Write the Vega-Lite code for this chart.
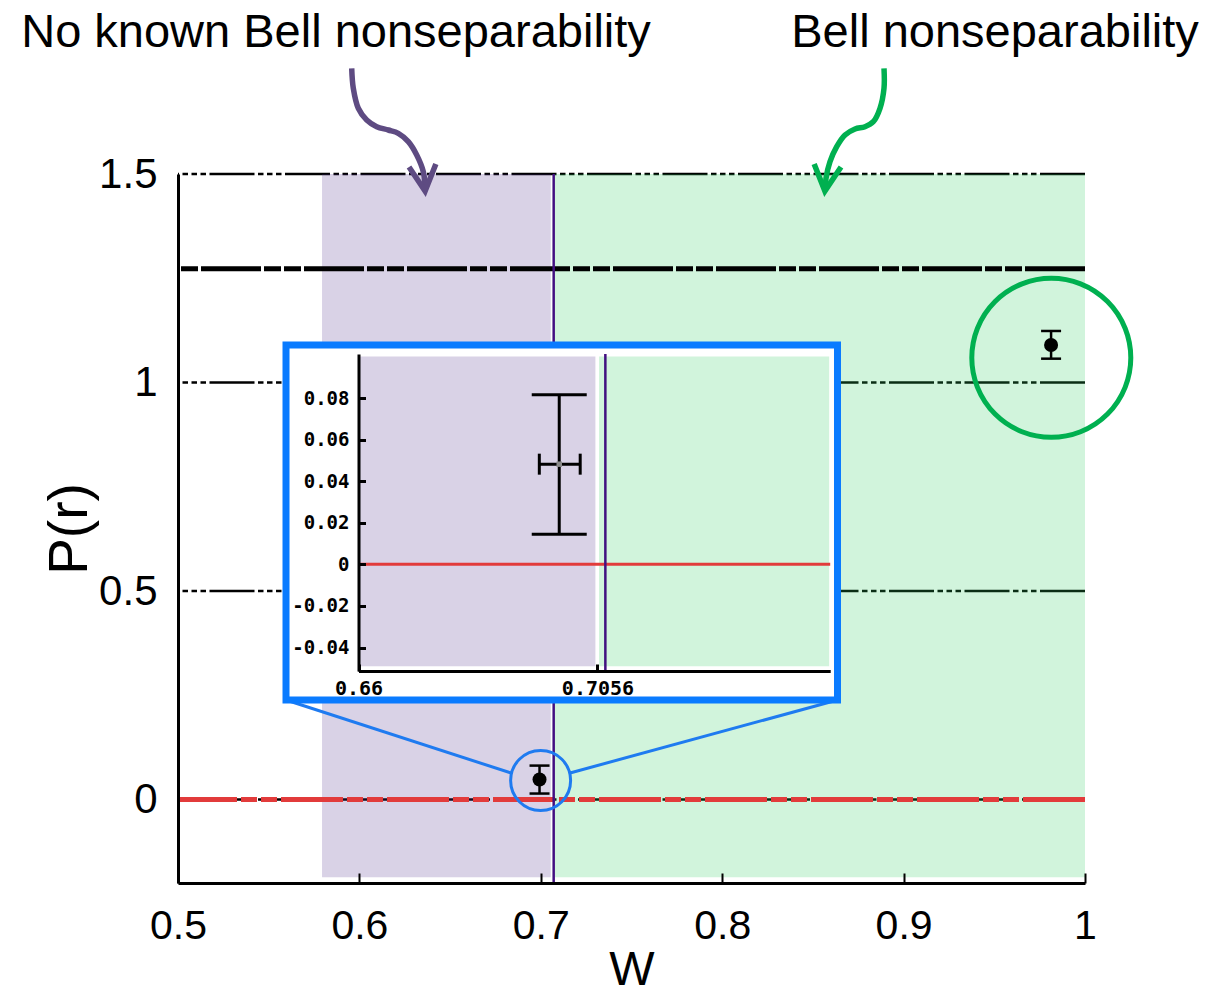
{
  "$schema": "https://vega.github.io/schema/vega-lite/v6.json",
  "width": 907,
  "height": 709,
  "autosize": "none",
  "padding": {"left": 178, "top": 174, "right": 124, "bottom": 110},
  "background": "white",
  "config": {"view": {"stroke": null}, "font": "Liberation Sans"},
  "datasets": {
    "regions": [
      {"name": "No known Bell nonseparability", "x1": 0.5794, "x2": 0.7055, "ytop": 1.5, "ybot": -0.186},
      {"name": "Bell nonseparability", "x1": 0.7078, "x2": 1.0, "ytop": 1.5, "ybot": -0.186}
    ],
    "insetRegions": [
      {"name": "No known Bell nonseparability", "x1": 0.66, "x2": 0.7052, "ytop": 0.1, "ybot": -0.049},
      {"name": "Bell nonseparability", "x1": 0.7059, "x2": 0.7498, "ytop": 0.1, "ybot": -0.049}
    ],
    "grid": [{"y": 0}, {"y": 0.5}, {"y": 1}, {"y": 1.5}],
    "bound": [{"y": 1.273}],
    "zero": [{"y": 0}],
    "threshold": [{"x": 0.7071}],
    "points": [
      {"x": 0.6993, "y": 0.048, "lo": 0.0145, "hi": 0.0815},
      {"x": 0.9813, "y": 1.09, "lo": 1.0572, "hi": 1.1236}
    ],
    "blueRing": [{"x": 0.6999, "y": 0.0458}],
    "greenRing": [{"x": 0.98142, "y": 1.0593}],
    "frame": [{"x1": 0.55954, "x2": 0.86356, "y1": 0.2388, "y2": 1.09}],
    "connectors": [
      {"x1": 0.55954, "y1": 0.2388, "x2": 0.68357, "y2": 0.0638},
      {"x1": 0.86356, "y1": 0.2388, "x2": 0.7161, "y2": 0.0638}
    ],
    "arrows": [
      {"region": "No known Bell nonseparability", "i": 0, "x": 0.59576, "y": 1.7535},
      {"region": "No known Bell nonseparability", "i": 1, "x": 0.59664, "y": 1.7055},
      {"region": "No known Bell nonseparability", "i": 2, "x": 0.59939, "y": 1.6576},
      {"region": "No known Bell nonseparability", "i": 3, "x": 0.60402, "y": 1.6295},
      {"region": "No known Bell nonseparability", "i": 4, "x": 0.60954, "y": 1.6134},
      {"region": "No known Bell nonseparability", "i": 5, "x": 0.61593, "y": 1.6055},
      {"region": "No known Bell nonseparability", "i": 6, "x": 0.62145, "y": 1.5976},
      {"region": "No known Bell nonseparability", "i": 7, "x": 0.62696, "y": 1.5775},
      {"region": "No known Bell nonseparability", "i": 8, "x": 0.63159, "y": 1.5456},
      {"region": "No known Bell nonseparability", "i": 9, "x": 0.63523, "y": 1.5055},
      {"region": "No known Bell nonseparability", "i": 10, "x": 0.63616, "y": 1.4712},
      {"region": "Bell nonseparability", "i": 0, "x": 0.8892, "y": 1.7535},
      {"region": "Bell nonseparability", "i": 1, "x": 0.8892, "y": 1.7055},
      {"region": "Bell nonseparability", "i": 2, "x": 0.88699, "y": 1.6576},
      {"region": "Bell nonseparability", "i": 3, "x": 0.8833, "y": 1.6254},
      {"region": "Bell nonseparability", "i": 4, "x": 0.87872, "y": 1.6134},
      {"region": "Bell nonseparability", "i": 5, "x": 0.87321, "y": 1.6079},
      {"region": "Bell nonseparability", "i": 6, "x": 0.8677, "y": 1.5935},
      {"region": "Bell nonseparability", "i": 7, "x": 0.86312, "y": 1.5655},
      {"region": "Bell nonseparability", "i": 8, "x": 0.85943, "y": 1.5295},
      {"region": "Bell nonseparability", "i": 9, "x": 0.85722, "y": 1.4897},
      {"region": "Bell nonseparability", "i": 10, "x": 0.85695, "y": 1.4712}
    ],
    "purpleHead": [{"x": 0.63545, "y": 1.4914}],
    "greenHead": [{"x": 0.85739, "y": 1.4914}],
    "labels": [
      {"text": "No known Bell nonseparability", "x": 0.5871, "y": 1.8053},
      {"text": "Bell nonseparability", "x": 0.9504, "y": 1.8053}
    ],
    "insetZero": [{"x1": 0.66, "x2": 0.75, "y": 0}],
    "insetThreshold": [{"x": 0.7071, "y1": -0.0513, "y2": 0.1012}],
    "insetPoint": [{"x": 0.6983, "y": 0.0482, "ylo": 0.0145, "yhi": 0.0816, "xlo": 0.6945, "xhi": 0.7023}]
  },
  "layer": [
    {
      "data": {"name": "grid"},
      "mark": {"type": "rule", "stroke": "black", "strokeWidth": 2.5, "strokeDash": [45, 3.5, 5.5, 3.5, 5.5, 3.5, 5.5, 3.5]},
      "encoding": {
        "y": {"field": "y", "type": "quantitative", "scale": {"domain": [-0.2, 1.5], "nice": false, "zero": false}, "axis": null}
      }
    },
    {
      "data": {"name": "regions"},
      "mark": {"type": "rect", "opacity": 0.22},
      "encoding": {
        "x": {"field": "x1", "type": "quantitative", "scale": {"domain": [0.5, 1], "nice": false, "zero": false},
          "axis": {"orient": "bottom", "values": [0.5, 0.6, 0.7, 0.8, 0.9, 1], "format": "~g", "title": "W", "titleFontSize": 48, "titleFontWeight": "normal", "titleColor": "black", "titlePadding": 0,
            "labelFontSize": 41, "labelColor": "black", "labelPadding": 33, "labelFlush": false, "labelOverlap": false,
            "tickSize": -10, "tickWidth": 2, "tickColor": "black", "domainColor": "black", "domainWidth": 3, "grid": false, "zindex": 1}},
        "x2": {"field": "x2"},
        "y": {"field": "ytop", "type": "quantitative", "scale": {"domain": [-0.2, 1.5], "nice": false, "zero": false},
          "axis": {"orient": "left", "values": [0, 0.5, 1, 1.5], "format": "~g", "title": "P(r)", "titleFontSize": 55, "titleFontWeight": "normal", "titleColor": "black", "titlePadding": 0,
            "labelFontSize": 42, "labelColor": "black", "labelPadding": 21, "labelFlush": false, "labelOverlap": false,
            "ticks": false, "domainColor": "black", "domainWidth": 3, "grid": false, "zindex": 1}},
        "y2": {"field": "ybot"},
        "fill": {"field": "name", "type": "nominal", "scale": {"domain": ["No known Bell nonseparability", "Bell nonseparability"], "range": ["#52328D", "#2ECD60"]}, "legend": null}
      }
    },
    {
      "data": {"name": "bound"},
      "mark": {"type": "rule", "stroke": "black", "strokeWidth": 5, "strokeDash": [60, 3, 17, 3, 17, 3]},
      "encoding": {
        "y": {"field": "y", "type": "quantitative", "scale": {"domain": [-0.2, 1.5], "nice": false, "zero": false}, "axis": null}
      }
    },
    {
      "data": {"name": "zero"},
      "mark": {"type": "rule", "stroke": "#E23B3B", "strokeWidth": 5, "strokeDash": [62, 4, 16, 4, 16, 4]},
      "encoding": {
        "y": {"field": "y", "type": "quantitative", "scale": {"domain": [-0.2, 1.5], "nice": false, "zero": false}, "axis": null}
      }
    },
    {
      "data": {"name": "threshold"},
      "mark": {"type": "rule", "stroke": "#421080", "strokeWidth": 2.5},
      "encoding": {
        "x": {"field": "x", "type": "quantitative", "scale": {"domain": [0.5, 1], "nice": false, "zero": false}, "axis": null}
      }
    },
    {
      "data": {"name": "points"},
      "mark": {"type": "rule", "stroke": "black", "strokeWidth": 2.5},
      "encoding": {
        "x": {"field": "x", "type": "quantitative", "scale": {"domain": [0.5, 1], "nice": false, "zero": false}, "axis": null},
        "y": {"field": "lo", "type": "quantitative", "scale": {"domain": [-0.2, 1.5], "nice": false, "zero": false}, "axis": null},
        "y2": {"field": "hi"}
      }
    },
    {
      "data": {"name": "points"},
      "mark": {"type": "tick", "orient": "horizontal", "size": 20, "thickness": 2.5, "color": "black", "opacity": 1},
      "encoding": {
        "x": {"field": "x", "type": "quantitative", "scale": {"domain": [0.5, 1], "nice": false, "zero": false}, "axis": null},
        "y": {"field": "lo", "type": "quantitative", "scale": {"domain": [-0.2, 1.5], "nice": false, "zero": false}, "axis": null}
      }
    },
    {
      "data": {"name": "points"},
      "mark": {"type": "tick", "orient": "horizontal", "size": 20, "thickness": 2.5, "color": "black", "opacity": 1},
      "encoding": {
        "x": {"field": "x", "type": "quantitative", "scale": {"domain": [0.5, 1], "nice": false, "zero": false}, "axis": null},
        "y": {"field": "hi", "type": "quantitative", "scale": {"domain": [-0.2, 1.5], "nice": false, "zero": false}, "axis": null}
      }
    },
    {
      "data": {"name": "points"},
      "mark": {"type": "point", "shape": "circle", "filled": true, "size": 196, "color": "black", "opacity": 1},
      "encoding": {
        "x": {"field": "x", "type": "quantitative", "scale": {"domain": [0.5, 1], "nice": false, "zero": false}, "axis": null},
        "y": {"field": "y", "type": "quantitative", "scale": {"domain": [-0.2, 1.5], "nice": false, "zero": false}, "axis": null}
      }
    },
    {
      "data": {"name": "connectors"},
      "mark": {"type": "rule", "stroke": "#1F7BF0", "strokeWidth": 3},
      "encoding": {
        "x": {"field": "x1", "type": "quantitative", "scale": {"domain": [0.5, 1], "nice": false, "zero": false}, "axis": null},
        "x2": {"field": "x2"},
        "y": {"field": "y1", "type": "quantitative", "scale": {"domain": [-0.2, 1.5], "nice": false, "zero": false}, "axis": null},
        "y2": {"field": "y2"}
      }
    },
    {
      "data": {"name": "blueRing"},
      "mark": {"type": "point", "shape": "circle", "filled": false, "size": 3600, "stroke": "#1F7BF0", "strokeWidth": 3, "opacity": 1},
      "encoding": {
        "x": {"field": "x", "type": "quantitative", "scale": {"domain": [0.5, 1], "nice": false, "zero": false}, "axis": null},
        "y": {"field": "y", "type": "quantitative", "scale": {"domain": [-0.2, 1.5], "nice": false, "zero": false}, "axis": null}
      }
    },
    {
      "data": {"name": "greenRing"},
      "mark": {"type": "point", "shape": "circle", "filled": false, "size": 25281, "stroke": "#00B050", "strokeWidth": 5, "opacity": 1},
      "encoding": {
        "x": {"field": "x", "type": "quantitative", "scale": {"domain": [0.5, 1], "nice": false, "zero": false}, "axis": null},
        "y": {"field": "y", "type": "quantitative", "scale": {"domain": [-0.2, 1.5], "nice": false, "zero": false}, "axis": null}
      }
    },
    {
      "data": {"name": "frame"},
      "mark": {"type": "rect", "fill": "white", "stroke": "#0A7BFF", "strokeWidth": 7, "opacity": 1},
      "encoding": {
        "x": {"field": "x1", "type": "quantitative", "scale": {"domain": [0.5, 1], "nice": false, "zero": false}, "axis": null},
        "x2": {"field": "x2"},
        "y": {"field": "y1", "type": "quantitative", "scale": {"domain": [-0.2, 1.5], "nice": false, "zero": false}, "axis": null},
        "y2": {"field": "y2"}
      }
    },
    {
      "data": {"name": "arrows"},
      "mark": {"type": "line", "interpolate": "catmull-rom", "strokeWidth": 5.5, "strokeCap": "butt"},
      "encoding": {
        "x": {"field": "x", "type": "quantitative", "scale": {"domain": [0.5, 1], "nice": false, "zero": false}, "axis": null},
        "y": {"field": "y", "type": "quantitative", "scale": {"domain": [-0.2, 1.5], "nice": false, "zero": false}, "axis": null},
        "order": {"field": "i", "type": "quantitative"},
        "stroke": {"field": "region", "type": "nominal", "scale": {"domain": ["No known Bell nonseparability", "Bell nonseparability"], "range": ["#5E4B82", "#00B050"]}, "legend": null}
      }
    },
    {
      "data": {"name": "purpleHead"},
      "mark": {"type": "point", "shape": "M-1,-0.9L0,1L1,-0.9", "filled": false, "size": 729, "stroke": "#5E4B82", "strokeWidth": 5.5, "strokeJoin": "miter", "angle": -6, "opacity": 1},
      "encoding": {
        "x": {"field": "x", "type": "quantitative", "scale": {"domain": [0.5, 1], "nice": false, "zero": false}, "axis": null},
        "y": {"field": "y", "type": "quantitative", "scale": {"domain": [-0.2, 1.5], "nice": false, "zero": false}, "axis": null}
      }
    },
    {
      "data": {"name": "greenHead"},
      "mark": {"type": "point", "shape": "M-1,-0.9L0,1L1,-0.9", "filled": false, "size": 729, "stroke": "#00B050", "strokeWidth": 5.5, "strokeJoin": "miter", "angle": 6, "opacity": 1},
      "encoding": {
        "x": {"field": "x", "type": "quantitative", "scale": {"domain": [0.5, 1], "nice": false, "zero": false}, "axis": null},
        "y": {"field": "y", "type": "quantitative", "scale": {"domain": [-0.2, 1.5], "nice": false, "zero": false}, "axis": null}
      }
    },
    {
      "data": {"name": "labels"},
      "mark": {"type": "text", "fontSize": 47, "align": "center", "baseline": "alphabetic", "color": "black"},
      "encoding": {
        "x": {"field": "x", "type": "quantitative", "scale": {"domain": [0.5, 1], "nice": false, "zero": false}, "axis": null},
        "y": {"field": "y", "type": "quantitative", "scale": {"domain": [-0.2, 1.5], "nice": false, "zero": false}, "axis": null},
        "text": {"field": "text"}
      }
    },
    {
      "data": {"name": "insetRegions"},
      "mark": {"type": "rect", "opacity": 0.22},
      "encoding": {
        "x": {"field": "x1", "type": "quantitative", "scale": {"domain": [0.66, 0.75], "range": [180.5, 652.2], "nice": false, "zero": false},
          "axis": {"orient": "bottom", "offset": -212, "values": [0.66, 0.7056], "format": ".4~f", "title": null,
            "labelFont": "DejaVu Sans Mono", "labelFontWeight": "bold", "labelFontSize": 20, "labelColor": "black", "labelPadding": 14, "labelFlush": false, "labelOverlap": false,
            "tickSize": -7, "tickWidth": 3, "tickColor": "black", "domainColor": "black", "domainWidth": 3, "grid": false, "zindex": 2}},
        "x2": {"field": "x2"},
        "y": {"field": "ytop", "type": "quantitative", "scale": {"domain": [-0.0513, 0.1012], "range": [497, 180], "nice": false, "zero": false},
          "axis": {"orient": "left", "offset": -180.5, "values": [-0.04, -0.02, 0, 0.02, 0.04, 0.06, 0.08], "format": "~g", "labelExpr": "replace(datum.label, '\u2212', '-')", "title": null,
            "labelFont": "DejaVu Sans Mono", "labelFontWeight": "bold", "labelFontSize": 19, "labelColor": "black", "labelPadding": 16.5, "labelFlush": false, "labelOverlap": false,
            "tickSize": -7, "tickWidth": 3, "tickColor": "black", "domainColor": "black", "domainWidth": 3, "grid": false, "zindex": 2}},
        "y2": {"field": "ybot"},
        "fill": {"field": "name", "type": "nominal", "scale": {"domain": ["No known Bell nonseparability", "Bell nonseparability"], "range": ["#52328D", "#2ECD60"]}, "legend": null}
      }
    },
    {
      "data": {"name": "insetZero"},
      "mark": {"type": "rule", "stroke": "#E23B3B", "strokeWidth": 3},
      "encoding": {
        "x": {"field": "x1", "type": "quantitative", "scale": {"domain": [0.66, 0.75], "range": [180.5, 652.2], "nice": false, "zero": false}, "axis": null},
        "x2": {"field": "x2"},
        "y": {"field": "y", "type": "quantitative", "scale": {"domain": [-0.0513, 0.1012], "range": [497, 180], "nice": false, "zero": false}, "axis": null}
      }
    },
    {
      "data": {"name": "insetThreshold"},
      "mark": {"type": "rule", "stroke": "#421080", "strokeWidth": 2.5},
      "encoding": {
        "x": {"field": "x", "type": "quantitative", "scale": {"domain": [0.66, 0.75], "range": [180.5, 652.2], "nice": false, "zero": false}, "axis": null},
        "y": {"field": "y1", "type": "quantitative", "scale": {"domain": [-0.0513, 0.1012], "range": [497, 180], "nice": false, "zero": false}, "axis": null},
        "y2": {"field": "y2"}
      }
    },
    {
      "data": {"name": "insetPoint"},
      "mark": {"type": "rule", "stroke": "black", "strokeWidth": 3},
      "encoding": {
        "x": {"field": "x", "type": "quantitative", "scale": {"domain": [0.66, 0.75], "range": [180.5, 652.2], "nice": false, "zero": false}, "axis": null},
        "y": {"field": "ylo", "type": "quantitative", "scale": {"domain": [-0.0513, 0.1012], "range": [497, 180], "nice": false, "zero": false}, "axis": null},
        "y2": {"field": "yhi"}
      }
    },
    {
      "data": {"name": "insetPoint"},
      "mark": {"type": "rule", "stroke": "black", "strokeWidth": 3},
      "encoding": {
        "x": {"field": "xlo", "type": "quantitative", "scale": {"domain": [0.66, 0.75], "range": [180.5, 652.2], "nice": false, "zero": false}, "axis": null},
        "x2": {"field": "xhi"},
        "y": {"field": "y", "type": "quantitative", "scale": {"domain": [-0.0513, 0.1012], "range": [497, 180], "nice": false, "zero": false}, "axis": null}
      }
    },
    {
      "data": {"name": "insetPoint"},
      "mark": {"type": "tick", "orient": "horizontal", "size": 55, "thickness": 3, "color": "black", "opacity": 1},
      "encoding": {
        "x": {"field": "x", "type": "quantitative", "scale": {"domain": [0.66, 0.75], "range": [180.5, 652.2], "nice": false, "zero": false}, "axis": null},
        "y": {"field": "ylo", "type": "quantitative", "scale": {"domain": [-0.0513, 0.1012], "range": [497, 180], "nice": false, "zero": false}, "axis": null}
      }
    },
    {
      "data": {"name": "insetPoint"},
      "mark": {"type": "tick", "orient": "horizontal", "size": 55, "thickness": 3, "color": "black", "opacity": 1},
      "encoding": {
        "x": {"field": "x", "type": "quantitative", "scale": {"domain": [0.66, 0.75], "range": [180.5, 652.2], "nice": false, "zero": false}, "axis": null},
        "y": {"field": "yhi", "type": "quantitative", "scale": {"domain": [-0.0513, 0.1012], "range": [497, 180], "nice": false, "zero": false}, "axis": null}
      }
    },
    {
      "data": {"name": "insetPoint"},
      "mark": {"type": "tick", "orient": "vertical", "size": 21, "thickness": 3, "color": "black", "opacity": 1},
      "encoding": {
        "x": {"field": "xlo", "type": "quantitative", "scale": {"domain": [0.66, 0.75], "range": [180.5, 652.2], "nice": false, "zero": false}, "axis": null},
        "y": {"field": "y", "type": "quantitative", "scale": {"domain": [-0.0513, 0.1012], "range": [497, 180], "nice": false, "zero": false}, "axis": null}
      }
    },
    {
      "data": {"name": "insetPoint"},
      "mark": {"type": "tick", "orient": "vertical", "size": 21, "thickness": 3, "color": "black", "opacity": 1},
      "encoding": {
        "x": {"field": "xhi", "type": "quantitative", "scale": {"domain": [0.66, 0.75], "range": [180.5, 652.2], "nice": false, "zero": false}, "axis": null},
        "y": {"field": "y", "type": "quantitative", "scale": {"domain": [-0.0513, 0.1012], "range": [497, 180], "nice": false, "zero": false}, "axis": null}
      }
    },
    {
      "data": {"name": "insetPoint"},
      "mark": {"type": "square", "size": 30, "color": "#8A8A8A", "opacity": 1},
      "encoding": {
        "x": {"field": "x", "type": "quantitative", "scale": {"domain": [0.66, 0.75], "range": [180.5, 652.2], "nice": false, "zero": false}, "axis": null},
        "y": {"field": "y", "type": "quantitative", "scale": {"domain": [-0.0513, 0.1012], "range": [497, 180], "nice": false, "zero": false}, "axis": null}
      }
    }
  ],
  "resolve": {"scale": {"x": "independent", "y": "independent"}}
}
